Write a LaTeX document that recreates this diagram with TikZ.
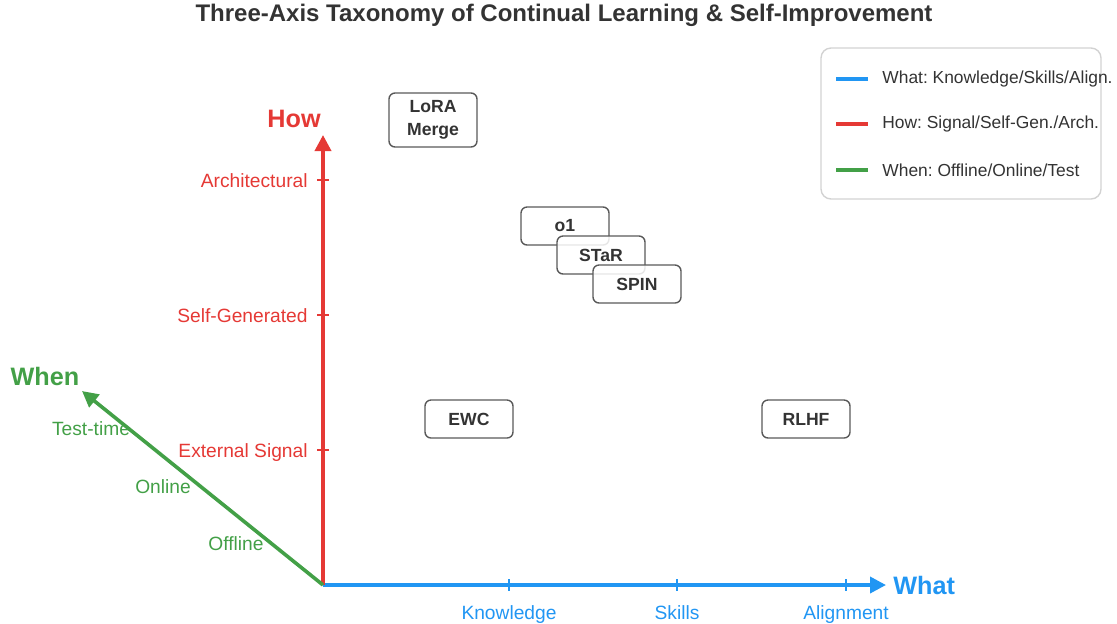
\documentclass[tikz,border=0pt]{standalone}
\usepackage{fontspec}
\setmainfont{Liberation Sans}
\usetikzlibrary{arrows.meta,positioning}
\definecolor{whatblue}{HTML}{2196F3}
\definecolor{howred}{HTML}{E53935}
\definecolor{whengreen}{HTML}{43A047}
\definecolor{inkgray}{HTML}{333333}
\frenchspacing

\begin{document}
\begin{tikzpicture}[x=0.5pt,y=-0.5pt,
  axis/.style={line width=1.8pt,-{Triangle[length=8pt,width=8pt]}},
  tick/.style={line width=0.9pt},
  ticklbl/.style={inner sep=0pt,font=\fontsize{9.6}{11}\selectfont},
  axlbl/.style={inner sep=0pt,font=\fontsize{12.6}{14}\selectfont\bfseries},
  method/.style={draw=gray!70!black,fill=white,fill opacity=0.85,text opacity=1,
                 rounded corners=3pt,minimum width=44pt,minimum height=19pt,
                 align=center,line width=0.7pt,text=inkgray,
                 font=\fontsize{8.8}{11.6}\selectfont\bfseries},
  legline/.style={line width=2pt},
  legtxt/.style={inner sep=0pt,anchor=west,text=inkgray,
                 font=\fontsize{8.7}{10}\selectfont}
]
\useasboundingbox (0,0) rectangle (1117,623);
% Title
\node[text=inkgray,font=\fontsize{12}{14}\selectfont\bfseries] (title) at (564,15)
  {Three-Axis Taxonomy of Continual Learning \& Self-Improvement};
% Axes from a common origin
\coordinate (O) at (323,585);
\coordinate (whattip) at (886,585);
\coordinate (howtip) at (323,135);
\coordinate (whentip) at (82,391);
\draw[axis,whatblue] (O) -- (whattip);
\draw[axis,howred] (O) -- (howtip);
\draw[axis,whengreen] (O) -- (whentip);
\node[axlbl,whatblue,anchor=west] (what) at (893,585) {What};
\node[axlbl,howred] (how) at (294,119) {How};
\node[axlbl,whengreen] (when) at (45,376) {When};
% What ticks
\foreach \x/\t in {509/Knowledge,677/Skills,846/Alignment}{
  \draw[tick,whatblue] (\x,579) -- (\x,591);
  \node[ticklbl,whatblue,anchor=base] at (\x,619) {\t};
}
% How ticks
\foreach \y/\t in {450/External Signal,315/Self-Generated,180/Architectural}{
  \draw[tick,howred] (317,\y) -- (329,\y);
  \node[ticklbl,howred,anchor=base east] at (308,\y+7) {\t};
}
% When labels along the diagonal
\node[ticklbl,whengreen,anchor=base] (offline) at (236,550) {Offline};
\node[ticklbl,whengreen,anchor=base] (online) at (163,493) {Online};
\node[ticklbl,whengreen,anchor=base] (testtime) at (91,435) {Test-time};
% Methods
\node[method,minimum height=27pt] (lora) at (433,120) {LoRA\\Merge};
\node[method] (o1) at (565,226) {o1};
\node[method] (star) at (601,255) {STaR};
\node[method] (spin) at (637,284) {SPIN};
\node[method] (ewc) at (469,419) {EWC};
\node[method] (rlhf) at (806,419) {RLHF};
% Legend
\node[draw=gray!35,line width=0.7pt,rounded corners=5pt,minimum width=140pt,
      minimum height=75.5pt] (legend) at (961,123.5) {};
\draw[legline,whatblue] (836,79) -- (868,79);
\draw[legline,howred] (836,124) -- (868,124);
\draw[legline,whengreen] (836,170) -- (868,170);
\node[legtxt] at (882,79) {What: Knowledge/Skills/Align.};
\node[legtxt] at (882,124) {How: Signal/Self-Gen./Arch.};
\node[legtxt] at (882,170) {When: Offline/Online/Test};
\end{tikzpicture}
\end{document}
